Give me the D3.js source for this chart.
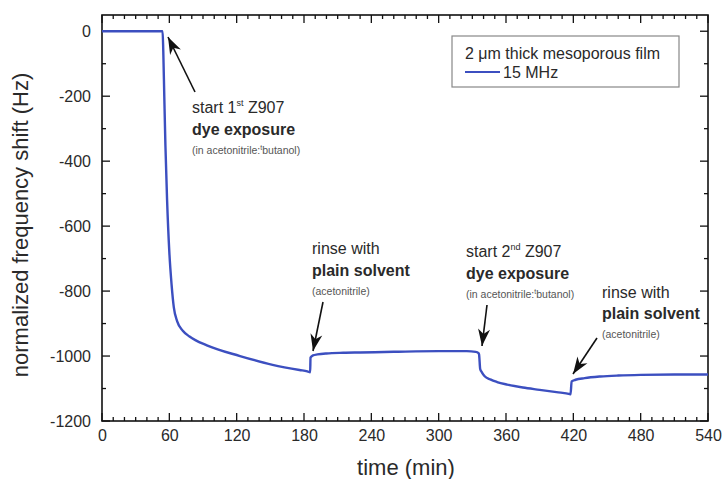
<!DOCTYPE html>
<html><head><meta charset="utf-8">
<script src="https://cdn.jsdelivr.net/npm/d3@7"></script>
<style>
body{margin:0;background:#fff;}
text{font-family:"Liberation Sans",Arial,sans-serif;}
</style></head>
<body><svg id="c" width="726" height="479"></svg>
<script>
const timeMin = [0,20,40,54,54.6,55.5,56.5,58,60,62,64,67,72,78,94,123,152,176,183,185.5,185.8,188,192,200,215,230,260,300,325,333,335.5,336,337,338.5,341,346,352,361,375,390,405,417,417.5,418.5,422,430,444,460,480,510,540];
const shiftHz = [0,0,0,0,-60,-200,-350,-520,-680,-780,-850,-893,-922,-940,-968,-1000,-1027,-1043,-1047,-1050,-1005,-998,-995,-992,-990,-989,-987,-985,-985,-987,-991,-995,-1040,-1050,-1062,-1072,-1080,-1088,-1097,-1104,-1111,-1117,-1118,-1078,-1073,-1068,-1063,-1060,-1058,-1057,-1057];
const xTicks = [0,60,120,180,240,300,360,420,480,540];
const yTicks = [0,-200,-400,-600,-800,-1000,-1200];
const legendTitle = "2 \u03bcm thick mesoporous film";
const seriesName = "15 MHz";

const svg = d3.select("#c");
const L=102,R=708,T=15,B=421;
const x = d3.scaleLinear().domain([0,540]).range([L,R]);
const y = d3.scaleLinear().domain([-1200,50]).range([B,T]);
const col="#3c4fc0", txt="#2a2a2a";

svg.append("rect").attr("x",L).attr("y",T).attr("width",R-L).attr("height",B-T)
  .attr("fill","none").attr("stroke","#111").attr("stroke-width",1.6);

const xMinor = d3.range(0,541,10), yMinor = d3.range(-1200,1,100);
const g = svg.append("g").attr("stroke","#111").attr("stroke-width",1.3);
xMinor.forEach(v=>{const len = v%60===0?8:4;
  g.append("line").attr("x1",x(v)).attr("x2",x(v)).attr("y1",B).attr("y2",B-len);
  g.append("line").attr("x1",x(v)).attr("x2",x(v)).attr("y1",T).attr("y2",T+len);});
yMinor.forEach(v=>{const len = v%200===0?8:4;
  g.append("line").attr("y1",y(v)).attr("y2",y(v)).attr("x1",L).attr("x2",L+len);
  g.append("line").attr("y1",y(v)).attr("y2",y(v)).attr("x1",R).attr("x2",R-len);});

const fmt = d => String(d);
const xa = svg.append("g").attr("transform",`translate(0,${B})`)
  .call(d3.axisBottom(x).tickValues(xTicks).tickFormat(fmt).tickSize(0).tickPadding(9));
const ya = svg.append("g").attr("transform",`translate(${L},0)`)
  .call(d3.axisLeft(y).tickValues(yTicks).tickFormat(fmt).tickSize(0).tickPadding(11));
[xa,ya].forEach(a=>{a.select(".domain").remove();
  a.selectAll("text").attr("font-size",16).attr("fill",txt).attr("font-family","Liberation Sans, Arial, sans-serif");});

svg.append("text").attr("x",406).attr("y",475).attr("text-anchor","middle")
  .attr("font-size",22).attr("fill",txt).text("time (min)");
svg.append("text").attr("transform",`translate(28,225) rotate(-90)`).attr("text-anchor","middle")
  .attr("font-size",22).attr("fill",txt).text("normalized frequency shift (Hz)");

const data = timeMin.map((t,i)=>[t,shiftHz[i]]);
svg.append("path").datum(data).attr("fill","none").attr("stroke",col).attr("stroke-width",2.4)
  .attr("stroke-linejoin","round")
  .attr("d",d3.line().x(d=>x(d[0])).y(d=>y(d[1])).curve(d3.curveMonotoneX));

svg.append("rect").attr("x",452).attr("y",36).attr("width",227).attr("height",51)
  .attr("fill","#fff").attr("stroke","#888").attr("stroke-width",1.2);
svg.append("text").attr("x",465).attr("y",59).attr("font-size",16).attr("fill",txt).text(legendTitle);
svg.append("line").attr("x1",465).attr("x2",500).attr("y1",72).attr("y2",72).attr("stroke",col).attr("stroke-width",2.2);
svg.append("text").attr("x",503).attr("y",78).attr("font-size",16).attr("fill",txt).text(seriesName);

function arrow(x1,y1,x2,y2){
  svg.append("line").attr("x1",x1).attr("y1",y1).attr("x2",x2).attr("y2",y2)
   .attr("stroke","#111").attr("stroke-width",1.6);
  const a=Math.atan2(y2-y1,x2-x1), s=17, w=6;
  const bx=x2-s*Math.cos(a), by=y2-s*Math.sin(a);
  const p=[[x2,y2],[bx+w*Math.sin(a),by-w*Math.cos(a)],[x2-(s-5)*Math.cos(a),y2-(s-5)*Math.sin(a)],[bx-w*Math.sin(a),by+w*Math.cos(a)]];
  svg.append("path").attr("d","M"+p.map(q=>q.join(",")).join("L")+"Z").attr("fill","#111");
}
arrow(195,92,168,37);
arrow(323,302,313,351);
arrow(487,305,482,346);
arrow(597,338,573,374);

const FS=16;
function startLabel(x0,y0,ord,sup){
  const t1 = svg.append("text").attr("x",x0).attr("y",y0).attr("font-size",FS).attr("fill",txt);
  t1.append("tspan").text("start "+ord);
  t1.append("tspan").attr("font-size",9).attr("dy",-7).text(sup);
  t1.append("tspan").attr("dy",7).text(" Z907");
}
function plain(x0,y0,s){
  svg.append("text").attr("x",x0).attr("y",y0).attr("font-size",FS).attr("fill",txt).text(s);
}
function small(x0,y0,s){
  svg.append("text").attr("x",x0).attr("y",y0).attr("font-size",10.5).attr("fill","#555").text(s);
}
function bold(x0,y0,s){
  svg.append("text").attr("x",x0).attr("y",y0).attr("font-size",FS).attr("font-weight","bold").attr("fill",txt).text(s);
}
function smallSolv(x0,y0){
  const t=svg.append("text").attr("x",x0).attr("y",y0).attr("font-size",10.5).attr("fill","#555");
  t.append("tspan").text("(in acetonitrile:");
  t.append("tspan").attr("font-size",7).attr("dy",-4).text("t");
  t.append("tspan").attr("dy",4).text("butanol)");
}
startLabel(192,113,"1","st");
bold(192,135,"dye exposure");
smallSolv(192,154);

plain(312,254,"rinse with");
bold(312,276,"plain solvent");
small(312,295,"(acetonitrile)");

startLabel(466,257,"2","nd");
bold(466,279,"dye exposure");
smallSolv(466,298);

plain(602,298,"rinse with");
bold(602,319,"plain solvent");
small(602,338,"(acetonitrile)");
</script></body></html>
